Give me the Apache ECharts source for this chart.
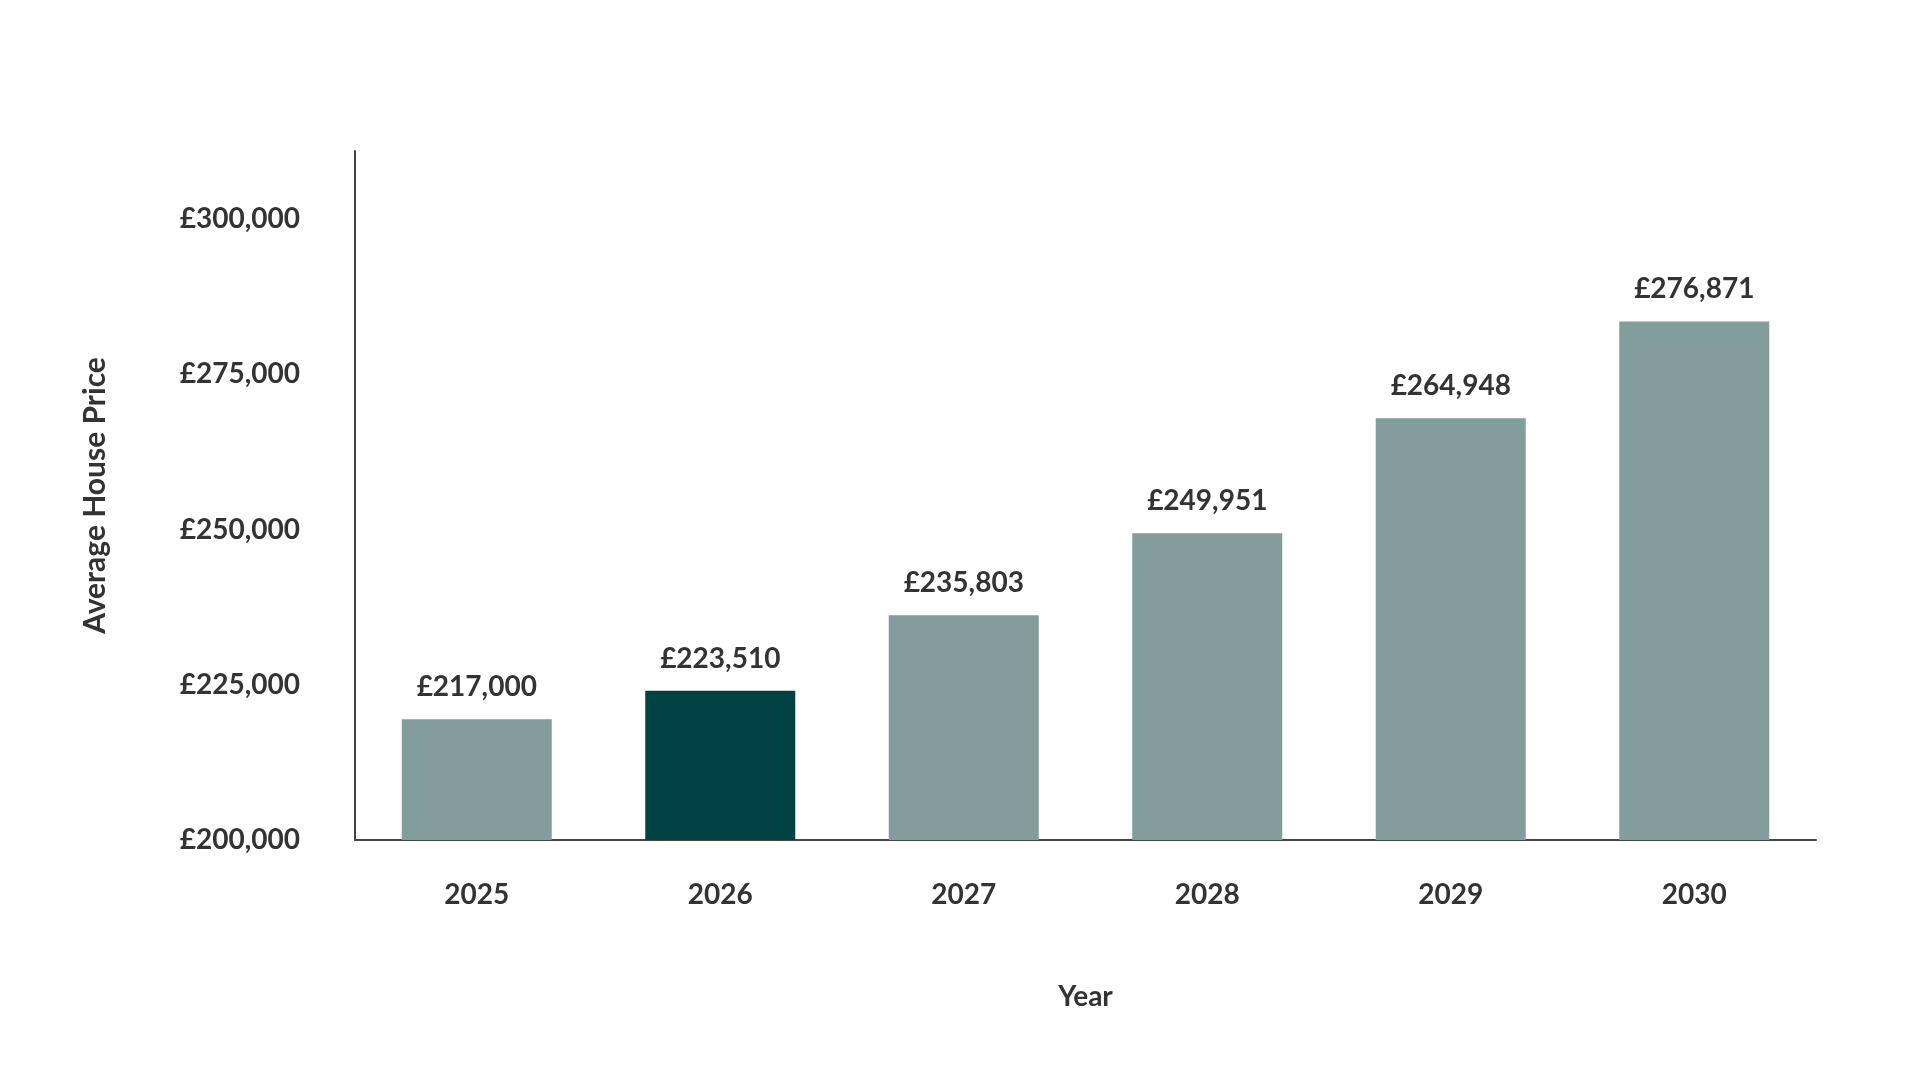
<!DOCTYPE html>
<html>
<head>
<meta charset="utf-8">
<script src="https://cdn.jsdelivr.net/npm/echarts@6/dist/echarts.min.js"></script>
<style>
  html, body { margin: 0; padding: 0; background: #ffffff; }
  #chart { width: 1920px; height: 1080px; }
</style>
</head>
<body>
<div id="chart"></div>
<script>
// Categories (years)
const years = ['2025', '2026', '2027', '2028', '2029', '2030'];
// Bar heights as drawn in the reference
const barHeights = [219440, 224050, 236200, 249400, 267930, 283550];
// Value labels printed above the bars
const valueLabels = ['£217,000', '£223,510', '£235,803', '£249,951', '£264,948', '£276,871'];
// Index of the highlighted bar
const highlightIndex = 1;
// Y axis ticks
const yMin = 200000;
const yMax = 311000;
const yStep = 25000;

const textColor = '#333333';
const fontFamily = 'Lato, "Noto Sans", sans-serif';
const fontWeight = 'bold';

const chart = echarts.init(document.getElementById('chart'), null, { renderer: 'canvas' });

const seriesData = barHeights.map((v, i) => ({
  value: v,
  itemStyle: { color: i === highlightIndex ? '#014245' : '#839d9c' }
}));

chart.setOption({
  animation: false,
  backgroundColor: '#ffffff',
  grid: { left: 355, right: 104, top: 151, bottom: 240, containLabel: false },
  xAxis: {
    type: 'category',
    data: years,
    name: 'Year',
    nameLocation: 'middle',
    nameGap: 143,
    nameTextStyle: { color: textColor, fontSize: 28, fontFamily: fontFamily, fontWeight: fontWeight },
    axisLine: { show: true, lineStyle: { color: '#444444', width: 2 } },
    axisTick: { show: false },
    axisLabel: { color: textColor, fontSize: 28, fontFamily: fontFamily, fontWeight: fontWeight, margin: 41 },
    splitLine: { show: false }
  },
  yAxis: {
    type: 'value',
    min: yMin,
    max: yMax,
    interval: yStep,
    name: 'Average House Price',
    nameLocation: 'middle',
    nameGap: 245,
    nameRotate: 90,
    nameTextStyle: { color: textColor, fontSize: 30, fontFamily: fontFamily, fontWeight: fontWeight },
    axisLine: { show: true, lineStyle: { color: '#444444', width: 2 } },
    axisTick: { show: false },
    splitLine: { show: false },
    axisLabel: {
      color: textColor,
      fontSize: 28,
      fontFamily: fontFamily,
      fontWeight: fontWeight,
      margin: 55,
      formatter: function (v) {
        if (v % yStep !== 0) return '';
        return '£' + v.toLocaleString('en-GB');
      }
    }
  },
  series: [{
    type: 'bar',
    data: seriesData,
    barWidth: 150,
    label: {
      show: true,
      position: 'top',
      distance: 18,
      color: textColor,
      fontSize: 28,
      fontFamily: fontFamily,
      fontWeight: fontWeight,
      formatter: function (p) { return valueLabels[p.dataIndex]; }
    }
  }]
});
</script>
</body>
</html>
